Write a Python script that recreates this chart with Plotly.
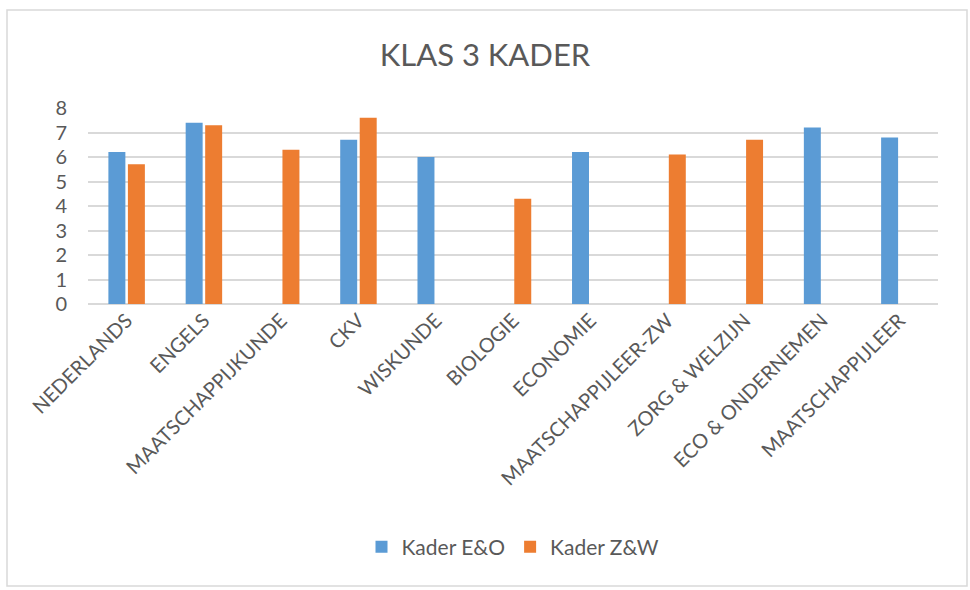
import plotly.graph_objects as go

categories = ["NEDERLANDS", "ENGELS", "MAATSCHAPPIJKUNDE", "CKV", "WISKUNDE", "BIOLOGIE",
              "ECONOMIE", "MAATSCHAPPIJLEER-ZW", "ZORG & WELZIJN", "ECO & ONDERNEMEN", "MAATSCHAPPIJLEER"]
kader_eo = [6.2, 7.4, None, 6.7, 6.0, None, 6.2, None, None, 7.2, 6.8]
kader_zw = [5.7, 7.3, 6.3, 7.6, None, 4.3, None, 6.1, 6.7, None, None]
y_ticks = [0, 1, 2, 3, 4, 5, 6, 7, 8]

FONT = "Lato"
GRAY = "#595959"

fig = go.Figure()
fig.add_trace(go.Bar(x=categories, y=kader_eo, name="Kader E&O", marker_color="#5B9BD5",
                     marker_line_width=0))
fig.add_trace(go.Bar(x=categories, y=kader_zw, name="Kader Z&W", marker_color="#ED7D31",
                     marker_line_width=0))

L, R, T, B = 88, 32, 108, 286
W, H = 970, 590
pw, ph = W - L - R, H - T - B

def px_x(p):
    return (p - L) / pw

def px_y(p):
    return (H - B - p) / ph

fig.update_layout(
    width=W, height=H,
    margin=dict(l=L, r=R, t=T, b=B),
    paper_bgcolor="white", plot_bgcolor="white",
    font=dict(family=FONT, color=GRAY),
    title=dict(text="KLAS 3 KADER", x=0.5, xanchor="center", y=1 - 55 / H, yanchor="middle",
               font=dict(size=31, family=FONT, color=GRAY)),
    barmode="group", bargap=0.495, bargroupgap=0.13,
    showlegend=True,
    legend=dict(orientation="h", x=0.5, xanchor="center", y=px_y(547), yanchor="middle",
                font=dict(size=21, family=FONT, color=GRAY), itemwidth=30, traceorder="normal"),
    xaxis=dict(tickangle=-45, tickfont=dict(size=20, family=FONT, color=GRAY),
               showgrid=False, showline=False, ticks="", zeroline=False),
    yaxis=dict(range=[0, 8], tickvals=y_ticks, tickfont=dict(size=20, family=FONT, color=GRAY),
               showgrid=True, gridcolor="#D9D9D9", gridwidth=1.5, zeroline=True,
               zerolinecolor="#D9D9D9", zerolinewidth=1.5, showline=False, ticks="",
               ticklabelstandoff=20),
    shapes=[dict(type="rect", xref="paper", yref="paper",
                 x0=px_x(7), x1=px_x(967), y0=px_y(586), y1=px_y(10),
                 line=dict(color="#D9D9D9", width=1.5), fillcolor="rgba(0,0,0,0)", layer="below")],
)

fig.write_html("out.html", config={"displayModeBar": False},
               post_script="document.body.style.margin='0';document.body.style.overflow='hidden';")
